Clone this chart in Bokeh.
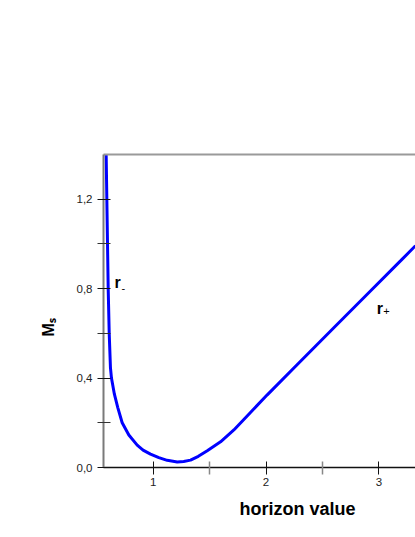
from bokeh.plotting import figure
from bokeh.models import Range1d, FixedTicker, LinearAxis, Label, ColumnDataSource, Title
from bokeh.embed import file_html
from bokeh.resources import INLINE

# ---- data ----
horizon = [0.583, 0.589, 0.595, 0.601, 0.610, 0.621, 0.630, 0.656, 0.686, 0.725,
           0.784, 0.858, 0.910, 0.976, 1.050, 1.124, 1.213, 1.270, 1.331, 1.400,
           1.479, 1.597, 1.715, 1.860, 2.011, 2.306, 2.601, 2.897, 3.192, 3.325]
mass = [1.40, 1.20, 1.00, 0.80, 0.60, 0.447, 0.400, 0.328, 0.268, 0.200,
        0.145, 0.100, 0.078, 0.060, 0.044, 0.032, 0.025, 0.027, 0.033, 0.050,
        0.075, 0.115, 0.168, 0.245, 0.325, 0.475, 0.625, 0.775, 0.924, 0.992]

x_ticks = [1, 2, 3]
x_minor = [1.5, 2.5]
x_tick_labels = ["1", "2", "3"]
y_ticks = [0.0, 0.4, 0.8, 1.2]
y_minor = [0.2, 0.6, 1.0]
y_tick_labels = ["0,0", "0,4", "0,8", "1,2"]

FONT = "Liberation Sans"

p = figure(width=415, height=530,
           x_range=Range1d(0.5594, 3.325), y_range=Range1d(0, 1.4),
           output_backend="svg", toolbar_location=None,
           min_border_left=103, min_border_right=0,
           min_border_top=154, min_border_bottom=63)
p.outline_line_color = None
p.xgrid.visible = False
p.ygrid.visible = False
p.background_fill_color = "white"
p.border_fill_color = "white"

src = ColumnDataSource(dict(x=horizon, y=mass))
p.line("x", "y", source=src, line_color="#0000FF", line_width=3)

# x axis
xa = p.xaxis[0]
xa.ticker = FixedTicker(ticks=x_ticks, minor_ticks=x_minor)
xa.major_label_overrides = dict(zip(x_ticks, x_tick_labels))
xa.axis_line_color = "#111111"
xa.axis_line_width = 1.5
xa.major_tick_in = 6
xa.major_tick_out = 7
xa.minor_tick_in = 6
xa.minor_tick_out = 7
xa.major_tick_line_color = "#111111"
xa.minor_tick_line_color = "#888888"
xa.minor_tick_line_width = 1.5
xa.major_label_standoff = 3
xa.major_label_text_font = FONT
xa.major_label_text_font_size = "11.5px"
xa.major_label_text_color = "#222222"

# y axis
ya = p.yaxis[0]
ya.ticker = FixedTicker(ticks=y_ticks, minor_ticks=y_minor)
ya.major_label_overrides = dict(zip(y_ticks, y_tick_labels))
ya.axis_line_color = "#7a7a7a"
ya.axis_line_width = 2
ya.major_tick_in = 7
ya.major_tick_out = 6
ya.minor_tick_in = 7
ya.minor_tick_out = 6
ya.major_tick_line_color = "#111111"
ya.minor_tick_line_color = "#333333"
ya.major_label_standoff = 5
ya.major_label_text_font = FONT
ya.major_label_text_font_size = "11.5px"
ya.major_label_text_color = "#222222"

# top border line
top = LinearAxis(ticker=FixedTicker(ticks=[]), axis_line_color="#9a9a9a",
                 axis_line_width=2, major_tick_line_color=None,
                 minor_tick_line_color=None, major_label_text_font_size="0px")
p.add_layout(top, "above")

# axis titles
p.add_layout(Title(text="horizon value", align="left", offset=136, standoff=16,
                   text_font=FONT, text_font_style="bold", text_font_size="18px",
                   text_color="#000000"), "below")
p.add_layout(Title(text="M\u209b", align="left", offset=131, standoff=33,
                   text_font=FONT, text_font_style="bold", text_font_size="16px",
                   text_color="#000000"), "left")

# curve annotations
p.add_layout(Label(x=0.657, y=0.826, text="r", text_align="left",
                   text_baseline="alphabetic", text_font=FONT, text_font_style="bold",
                   text_font_size="16px", text_color="#000000"))
p.add_layout(Label(x=0.720, y=0.805, text="-", text_align="left",
                   text_baseline="middle", text_font=FONT,
                   text_font_size="11px", text_color="#000000"))
p.add_layout(Label(x=2.981, y=0.713, text="r", text_align="left",
                   text_baseline="alphabetic", text_font=FONT, text_font_style="bold",
                   text_font_size="16px", text_color="#000000"))
p.add_layout(Label(x=3.039, y=0.699, text="+", text_align="left",
                   text_baseline="middle", text_font=FONT,
                   text_font_size="11px", text_color="#000000"))

open("out.html", "w").write(file_html(p, INLINE))
